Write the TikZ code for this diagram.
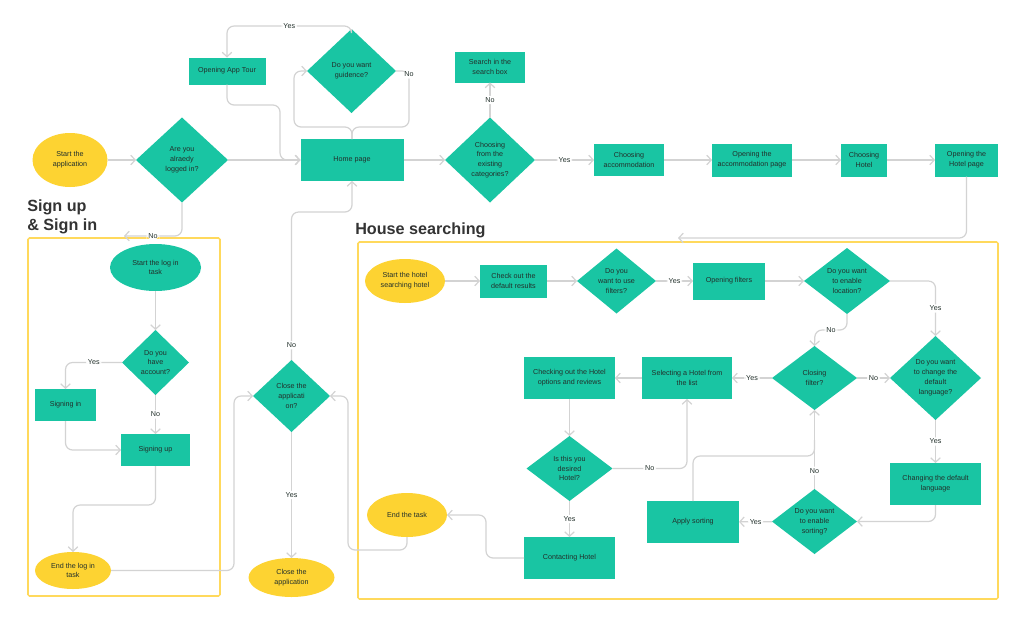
\documentclass[tikz,border=0pt]{standalone}
\usepackage{fontspec}
\setmainfont{Liberation Sans}
\usetikzlibrary{shapes.geometric,arrows.meta}
\definecolor{mint}{HTML}{19C5A3}
\definecolor{sun}{HTML}{FDD332}
\definecolor{band}{HTML}{FFD95C}
\definecolor{wire}{HTML}{D3D3D3}
\definecolor{ink}{HTML}{22302B}
\definecolor{head}{HTML}{333333}
\tikzset{
  sz/.style 2 args={minimum width=#1*0.025cm, minimum height=#2*0.025cm},
  box/.style={text=ink, font=\fontsize{5.1}{7}\selectfont, align=center, outer sep=0pt},
  proc/.style={box, rectangle, fill=mint, inner sep=1pt},
  decide/.style={box, diamond, fill=mint, inner sep=-5pt},
  term/.style={box, ellipse, fill=sun, inner sep=0pt},
  tterm/.style={box, ellipse, fill=mint, inner sep=0pt},
  flow/.style={draw=wire, line width=0.85pt, rounded corners=5pt, -{Straight Barb[length=1.1mm,width=2.4mm]}},
  wireline/.style={draw=wire, line width=0.85pt, rounded corners=5pt},
  lbl/.style={fill=white, text=ink, font=\fontsize{5.1}{7}\selectfont, inner sep=1.2pt},
  frame/.style={draw=band, line width=1.1pt, rounded corners=1pt},
  title/.style={text=head, font=\fontsize{11.5}{14.2}\selectfont\bfseries, align=left, inner sep=0pt}
}
\begin{document}
\begin{tikzpicture}[x=0.025cm, y=-0.025cm]
  \useasboundingbox (0,0) rectangle (1024,619);
  \fill[white] (0,0) rectangle (1024,619);

  % section frames and titles
  \draw[frame] (28,238) rectangle (220,596);
  \draw[frame] (358,242) rectangle (998,599);
  \node[title, anchor=north west] (ttlsign) at (27,199) {Sign up\\\& Sign in};
  \node[title, anchor=base west] (ttlhouse) at (355,234) {House searching};

  % top row
  \node[term, sz={75}{54}] (appstart) at (70,160) {Start the\\application};
  \node[decide, sz={92}{85}] (logged) at (182,160) {Are you\\alraedy\\logged in?};
  \node[proc, sz={77}{27}] (tour) at (227,71) {Opening App Tour};
  \node[proc, sz={103}{42}] (home) at (352,160) {Home page};
  \node[decide, sz={89}{84}] (guide) at (351.5,71) {Do you want\\guidence?};
  \node[proc, sz={70}{31}] (search) at (490,67) {Search in the\\search box};
  \node[decide, sz={90}{85}] (categ) at (490,160) {Choosing\\from the\\existing\\categories?};
  \node[proc, sz={70}{32}] (accom) at (629,160) {Choosing\\accommodation};
  \node[proc, sz={80}{33}] (accpage) at (752,160) {Opening the\\accommodation page};
  \node[proc, sz={46}{33}] (hotel) at (864,160) {Choosing\\Hotel};
  \node[proc, sz={63}{33}] (hotelpage) at (966.5,160) {Opening the\\Hotel page};

  % sign up & sign in
  \node[tterm, sz={91}{47}] (logstart) at (155.5,267.5) {Start the log in\\task};
  \node[decide, sz={67}{65}] (account) at (155.5,362.5) {Do you\\have\\account?};
  \node[proc, sz={61}{32}] (signin) at (65.5,405) {Signing in};
  \node[proc, sz={69}{32}] (signup) at (155.5,450) {Signing up};
  \node[term, sz={76}{37}] (logend) at (73,570.5) {End the log in\\task};
  \node[decide, sz={77}{72}] (closeq) at (291.5,396) {Close the\\applicati\\on?};
  \node[term, sz={86}{39}] (closeapp) at (291.5,577.5) {Close the\\application};

  % house searching
  \node[term, sz={80}{44}] (hstart) at (405,281) {Start the hotel\\searching hotel};
  \node[proc, sz={67}{33}] (defres) at (513.5,281) {Check out the\\default results};
  \node[decide, sz={79}{65}] (filtq) at (616.5,281) {Do you\\want to use\\filters?};
  \node[proc, sz={72}{37}] (openfilt) at (729,281) {Opening filters};
  \node[decide, sz={86}{66}] (locq) at (847,281) {Do you want\\to enable\\location?};
  \node[decide, sz={91}{84}] (langq) at (935.5,378) {Do you want\\to change the\\default\\language?};
  \node[decide, sz={85}{64}] (closefilt) at (814.5,378) {Closing\\filter?};
  \node[proc, sz={90}{42}] (select) at (687,378) {Selecting a Hotel from\\the list};
  \node[proc, sz={91}{42}] (checkopt) at (569.5,378) {Checking out the Hotel\\options and reviews};
  \node[decide, sz={86}{65}] (desired) at (569.5,468.5) {Is this you\\desired\\Hotel?};
  \node[proc, sz={91}{42}] (contact) at (569.5,558) {Contacting Hotel};
  \node[term, sz={80}{44}] (endtask) at (407,515) {End the task};
  \node[proc, sz={91}{42}] (changelang) at (935.5,484) {Changing the default\\language};
  \node[decide, sz={85}{65}] (sortq) at (814.5,521.5) {Do you want\\to enable\\sorting?};
  \node[proc, sz={92}{42}] (apply) at (693,522) {Apply sorting};

  \coordinate (suin) at (124,236);
  \coordinate (hsin) at (678,238);

  % top connectors
  \draw[flow] (appstart) -- (logged);
  \draw[flow] (logged) -- (home);
  \draw[flow] (tour.south) |- (280,105) |- (home.west);
  \draw[flow] (guide.north) |- (227,26) node[lbl, pos=0.75] (yes1) {Yes} -- (tour.north);
  \draw[flow] (home.north) |- (294,127) |- (guide.west);
  \draw[wireline] (guide.east) -| (409,127) node[lbl, pos=0.53] (no1) {No} -| (home.north);
  \draw[flow] (home) -- (categ);
  \draw[flow] (categ.north) -- node[lbl] (no2) {No} (search.south);
  \draw[flow] (categ) -- node[lbl] (yes2) {Yes} (accom);
  \draw[flow] (accom) -- (accpage);
  \draw[flow] (accpage) -- (hotel);
  \draw[flow] (hotel) -- (hotelpage);
  \draw[flow] (hotelpage.south) |- (hsin);
  \draw[flow] (logged.south) |- (suin) node[lbl, pos=0.75] (no3) {No};

  % sign up & sign in connectors
  \draw[flow] (logstart) -- (account);
  \draw[flow] (account.west) -| (signin.north) node[lbl, pos=0.25] (yes3) {Yes};
  \draw[flow] (account) -- node[lbl] (no4) {No} (signup);
  \draw[flow] (signin.south) |- (signup.west);
  \draw[flow] (signup.south) |- (73,505) -- (logend.north);
  \draw[flow] (logend.east) -| (234,396) -- (closeq.west);
  \draw[flow] (closeq.north) |- (352,212) node[lbl, pos=0.05] (no5) {No} -- (home.south);
  \draw[flow] (closeq) -- node[lbl] (yes4) {Yes} (closeapp);
  \draw[flow] (endtask.south) |- (348,550) |- (closeq.east);

  % house searching connectors
  \draw[flow] (hstart) -- (defres);
  \draw[flow] (defres) -- (filtq);
  \draw[flow] (filtq) -- node[lbl] (yes5) {Yes} (openfilt);
  \draw[flow] (openfilt) -- (locq);
  \draw[flow] (locq.east) -| (langq.north) node[lbl, pos=0.75] (yes6) {Yes};
  \draw[flow] (locq.south) |- (815,330) node[lbl, pos=0.75] (no6) {No} -- (closefilt.north);
  \draw[flow] (closefilt) -- node[lbl] (no7) {No} (langq);
  \draw[flow] (closefilt) -- node[lbl] (yes7) {Yes} (select);
  \draw[flow] (select) -- (checkopt);
  \draw[flow] (checkopt) -- (desired);
  \draw[flow] (desired.east) -| (select.south) node[lbl, pos=0.25] (no8) {No};
  \draw[flow] (desired) -- node[lbl] (yes8) {Yes} (contact);
  \draw[flow] (contact.west) -| (486,515) -- (endtask.east);
  \draw[flow] (langq) -- node[lbl] (yes9) {Yes} (changelang);
  \draw[flow] (changelang.south) |- (sortq.east);
  \draw[flow] (sortq) -- node[lbl, pos=0.23] (no9) {No} (closefilt);
  \draw[flow] (sortq) -- node[lbl] (yes10) {Yes} (apply);
  \draw[wireline] (apply.north) |- (814.5,456) -- (814.5,440);
\end{tikzpicture}
\end{document}
